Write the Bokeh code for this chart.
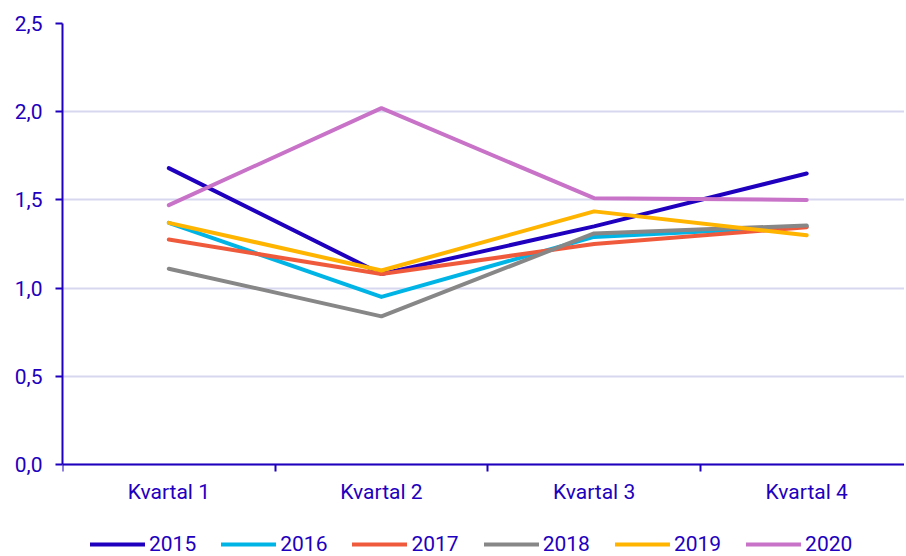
from bokeh.plotting import figure
from bokeh.models import (FixedTicker, CustomJSTickFormatter, Range1d, Legend, LegendItem, LinearAxis)
from bokeh.embed import file_html
from bokeh.resources import INLINE

categories = ["Kvartal 1", "Kvartal 2", "Kvartal 3", "Kvartal 4"]
years = ["2015", "2016", "2017", "2018", "2019", "2020"]
v2015 = [1.68, 1.08, 1.35, 1.65]
v2016 = [1.37, 0.95, 1.29, 1.35]
v2017 = [1.275, 1.08, 1.25, 1.345]
v2018 = [1.11, 0.84, 1.31, 1.355]
v2019 = [1.37, 1.10, 1.435, 1.30]
v2020 = [1.47, 2.02, 1.51, 1.50]
series = [v2015, v2016, v2017, v2018, v2019, v2020]
colors = ["#1e00be", "#00b4e6", "#f05a3c", "#878787", "#ffb400", "#c873c8"]
y_ticks = [0.0, 0.5, 1.0, 1.5, 2.0, 2.5]

TEXT = "#1e00be"
FONT = "Roboto"

xs = [i + 0.5 for i in range(len(categories))]

# frame extends below y=0 so the category labels and legend live inside it
p = figure(frame_width=842, frame_height=533, output_backend="svg", toolbar_location=None,
           x_range=Range1d(0, 3.96), y_range=Range1d(-0.5215, 2.5),
           x_axis_location=None,
           min_border_left=62, min_border_top=23, min_border_right=0, min_border_bottom=0)
p.outline_line_color = None
p.background_fill_color = "white"

p.xgrid.grid_line_color = None
p.ygrid.ticker = FixedTicker(ticks=y_ticks)
p.ygrid.grid_line_color = "#d7d7f0"
p.ygrid.grid_line_width = 2

items = []
for yr, vals, c in zip(years, series, colors):
    r = p.line(xs, vals, line_color=c, line_width=4, line_join="round", line_cap="round")
    items.append(LegendItem(label=yr, renderers=[r]))

# y axis
yax = p.yaxis[0]
yax.ticker = FixedTicker(ticks=y_ticks)
yax.bounds = (0, 2.5)
yax.formatter = CustomJSTickFormatter(code="return tick.toFixed(1).replace('.', ',');")
yax.axis_line_color = TEXT
yax.axis_line_width = 2
yax.major_tick_line_color = TEXT
yax.major_tick_line_width = 2
yax.major_tick_out = 7
yax.major_tick_in = 0
yax.minor_tick_line_color = None
yax.major_label_text_color = TEXT
yax.major_label_text_font = FONT
yax.major_label_text_font_size = "21px"
yax.major_label_standoff = 13

# x axis drawn at y = 0 inside the frame
xax = LinearAxis(fixed_location=0)
xax.ticker = FixedTicker(ticks=xs, minor_ticks=[0, 1, 2, 3, 4])
xax.formatter = CustomJSTickFormatter(args=dict(cats=categories),
                                      code="return cats[Math.round(tick - 0.5)];")
xax.axis_line_color = TEXT
xax.axis_line_width = 2
xax.major_tick_line_color = None
xax.minor_tick_line_color = TEXT
xax.minor_tick_line_width = 2
xax.minor_tick_out = 7
xax.minor_tick_in = 0
xax.major_label_text_color = TEXT
xax.major_label_text_font = FONT
xax.major_label_text_font_size = "21px"
xax.major_label_standoff = 8
p.add_layout(xax, "below")

legend = Legend(items=items, orientation="horizontal", location=(28, 0))
legend.border_line_color = None
legend.background_fill_alpha = 0
legend.label_text_color = TEXT
legend.label_text_font = FONT
legend.label_text_font_size = "21px"
legend.glyph_width = 55
legend.label_standoff = 4
legend.spacing = 25
legend.padding = 0
legend.margin = 0
p.add_layout(legend, "center")

open("out.html", "w").write(file_html(p, INLINE))
